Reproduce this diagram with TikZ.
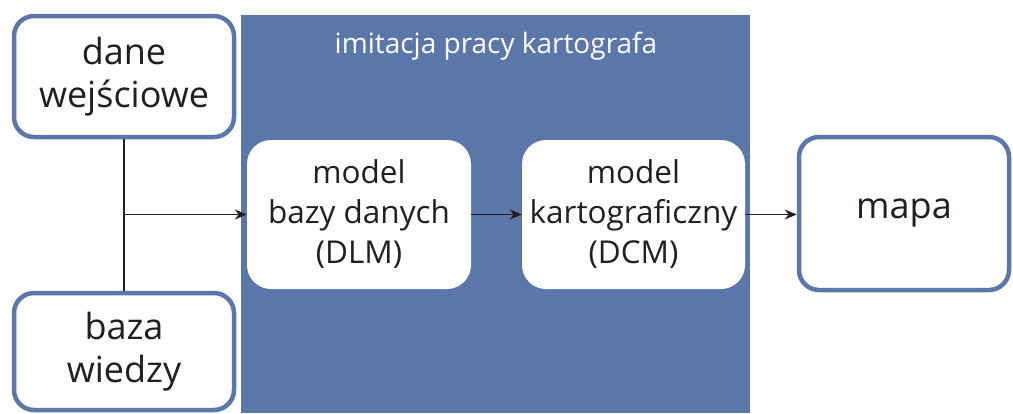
\documentclass[tikz,border=0pt]{standalone}
\usepackage{fontspec}
\setmainfont{Open Sans}
\usetikzlibrary{arrows.meta}
\definecolor{frameblue}{HTML}{5B76A8}
\definecolor{txt}{HTML}{231F20}
\begin{document}
\begin{tikzpicture}[x=1pt,y=-1pt,
  outerbox/.style={draw=frameblue, line width=4.5pt, fill=white, rounded corners=20pt, text=txt, align=center, inner sep=0pt, font=\fontsize{36}{43}\selectfont},
  innerbox/.style={fill=white, rounded corners=24pt, text=txt, align=center, inner sep=0pt, font=\fontsize{31.5}{40}\selectfont},
  conn/.style={draw=txt, line width=1.6pt},
  arr/.style={conn, -{Stealth[length=12pt,width=10pt]}}]
\useasboundingbox (0,0) rectangle (1013,413);
\fill[frameblue] (241,15) rectangle (750,413);
\node[text=white, font=\fontsize{28}{32}\selectfont] (title) at (496,46) {imitacja pracy kartografa};
\node[outerbox, minimum width=220pt, minimum height=121pt] (dane) at (124,76.5) {dane\\wejściowe};
\node[outerbox, minimum width=220pt, minimum height=117pt] (baza) at (124,351.5) {baza\\wiedzy};
\node[innerbox, minimum width=224pt, minimum height=149pt] (m1) at (359,214.5) {model\\bazy danych\\(DLM)};
\node[innerbox, minimum width=223pt, minimum height=149pt] (m2) at (633.5,214.5) {model\\kartograficzny\\(DCM)};
\node[outerbox, minimum width=210pt, minimum height=153pt] (mapa) at (904,213.5) {mapa};
\coordinate (j) at (dane.south |- m1.west);
\draw[conn] (dane.south) -- (baza.north);
\draw[arr] (j) -- (m1.west);
\draw[arr] (m1.east) -- (m2.west);
\draw[arr] (m2.east) -- (m2.east -| mapa.west);
\end{tikzpicture}
\end{document}
